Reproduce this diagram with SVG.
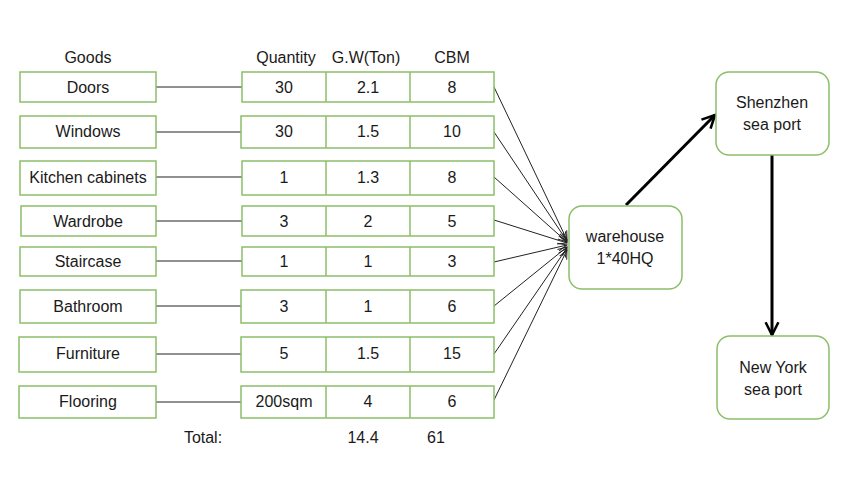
<svg xmlns="http://www.w3.org/2000/svg" width="850" height="500" viewBox="0 0 850 500">
<defs>
<style>
.box{fill:#fff;stroke:#8cbf6a;stroke-width:1.5}
.t{font-family:"Liberation Sans",Arial,sans-serif;font-size:16px;fill:#1a1a1a;text-anchor:middle}
.thin{stroke:#222;stroke-width:1;fill:none}
.thick{stroke:#000;stroke-width:3;fill:none}
</style>
<marker id="sm" viewBox="0 0 10 10" refX="9" refY="5" markerWidth="10" markerHeight="10" markerUnits="userSpaceOnUse" orient="auto">
<path d="M0,1 L9,5 L0,9" fill="none" stroke="#222" stroke-width="1"/>
</marker>
<marker id="big" viewBox="0 0 10 10" refX="9" refY="5" markerWidth="16" markerHeight="16" markerUnits="userSpaceOnUse" orient="auto">
<path d="M1,1 L9,5 L1,9" fill="none" stroke="#000" stroke-width="1.6"/>
</marker>
</defs>
<rect width="850" height="500" fill="#fff"/>
<g id="headers">
<text class="t" x="88" y="63">Goods</text>
<text class="t" x="286" y="63">Quantity</text>
<text class="t" x="366" y="63">G.W(Ton)</text>
<text class="t" x="452" y="63">CBM</text>
</g>
<g id="connectors">
<line class="thin" x1="156" y1="87" x2="242" y2="87"/>
<line class="thin" x1="156" y1="132" x2="242" y2="132"/>
<line class="thin" x1="156" y1="177" x2="242" y2="177"/>
<line class="thin" x1="156" y1="221" x2="242" y2="221"/>
<line class="thin" x1="156" y1="261" x2="242" y2="261"/>
<line class="thin" x1="156" y1="306" x2="242" y2="306"/>
<line class="thin" x1="156" y1="354" x2="242" y2="354"/>
<line class="thin" x1="156" y1="402" x2="242" y2="402"/>
<line class="thin" x1="494" y1="87" x2="567" y2="240" marker-end="url(#sm)"/>
<line class="thin" x1="494" y1="132" x2="567" y2="241" marker-end="url(#sm)"/>
<line class="thin" x1="494" y1="177" x2="567" y2="242" marker-end="url(#sm)"/>
<line class="thin" x1="494" y1="220" x2="567" y2="243" marker-end="url(#sm)"/>
<line class="thin" x1="494" y1="262" x2="567" y2="245" marker-end="url(#sm)"/>
<line class="thin" x1="494" y1="306" x2="567" y2="247" marker-end="url(#sm)"/>
<line class="thin" x1="494" y1="354" x2="567" y2="248" marker-end="url(#sm)"/>
<line class="thin" x1="494" y1="400" x2="567" y2="250" marker-end="url(#sm)"/>
<line class="thick" x1="626" y1="205" x2="715" y2="115" marker-end="url(#big)"/>
<line class="thick" x1="772" y1="155" x2="772" y2="335" marker-end="url(#big)"/>
</g>
<g id="doors">
<rect class="box" x="20" y="72" width="136" height="30"/><text class="t" x="88" y="93">Doors</text>
<rect class="box" x="242" y="72" width="252" height="30"/>
<line class="box" x1="326" y1="72" x2="326" y2="102"/><line class="box" x1="410" y1="72" x2="410" y2="102"/>
<text class="t" x="284" y="93">30</text><text class="t" x="368" y="93">2.1</text><text class="t" x="452" y="93">8</text>
</g>
<g id="windows">
<rect class="box" x="20" y="116" width="136" height="32"/><text class="t" x="88" y="137">Windows</text>
<rect class="box" x="241" y="116" width="253" height="32"/>
<line class="box" x1="326" y1="116" x2="326" y2="148"/><line class="box" x1="410" y1="116" x2="410" y2="148"/>
<text class="t" x="284" y="137">30</text><text class="t" x="368" y="137">1.5</text><text class="t" x="452" y="137">10</text>
</g>
<g id="kitchen">
<rect class="box" x="20" y="161" width="136" height="34"/><text class="t" x="88" y="183">Kitchen cabinets</text>
<rect class="box" x="242" y="161" width="252" height="34"/>
<line class="box" x1="326" y1="161" x2="326" y2="195"/><line class="box" x1="410" y1="161" x2="410" y2="195"/>
<text class="t" x="284" y="183">1</text><text class="t" x="368" y="183">1.3</text><text class="t" x="452" y="183">8</text>
</g>
<g id="wardrobe">
<rect class="box" x="21" y="206" width="135" height="30"/><text class="t" x="88" y="227">Wardrobe</text>
<rect class="box" x="242" y="206" width="252" height="30"/>
<line class="box" x1="326" y1="206" x2="326" y2="236"/><line class="box" x1="410" y1="206" x2="410" y2="236"/>
<text class="t" x="284" y="227">3</text><text class="t" x="368" y="227">2</text><text class="t" x="452" y="227">5</text>
</g>
<g id="staircase">
<rect class="box" x="20" y="247" width="136" height="29"/><text class="t" x="88" y="267">Staircase</text>
<rect class="box" x="242" y="247" width="252" height="29"/>
<line class="box" x1="326" y1="247" x2="326" y2="276"/><line class="box" x1="410" y1="247" x2="410" y2="276"/>
<text class="t" x="284" y="267">1</text><text class="t" x="368" y="267">1</text><text class="t" x="452" y="267">3</text>
</g>
<g id="bathroom">
<rect class="box" x="20" y="290" width="136" height="33"/><text class="t" x="88" y="312">Bathroom</text>
<rect class="box" x="241" y="290" width="253" height="33"/>
<line class="box" x1="326" y1="290" x2="326" y2="323"/><line class="box" x1="410" y1="290" x2="410" y2="323"/>
<text class="t" x="284" y="312">3</text><text class="t" x="368" y="312">1</text><text class="t" x="452" y="312">6</text>
</g>
<g id="furniture">
<rect class="box" x="19" y="337" width="137" height="35"/><text class="t" x="88" y="359">Furniture</text>
<rect class="box" x="241" y="337" width="253" height="35"/>
<line class="box" x1="326" y1="337" x2="326" y2="372"/><line class="box" x1="410" y1="337" x2="410" y2="372"/>
<text class="t" x="284" y="359">5</text><text class="t" x="368" y="359">1.5</text><text class="t" x="452" y="359">15</text>
</g>
<g id="flooring">
<rect class="box" x="19" y="386" width="137" height="32"/><text class="t" x="88" y="407">Flooring</text>
<rect class="box" x="241" y="386" width="253" height="32"/>
<line class="box" x1="326" y1="386" x2="326" y2="418"/><line class="box" x1="410" y1="386" x2="410" y2="418"/>
<text class="t" x="284" y="407">200sqm</text><text class="t" x="368" y="407">4</text><text class="t" x="452" y="407">6</text>
</g>
<g id="totals">
<text class="t" x="203" y="443">Total:</text>
<text class="t" x="363" y="443">14.4</text>
<text class="t" x="436" y="443">61</text>
</g>
<g id="warehouse">
<rect class="box" x="569" y="206" width="113" height="83" rx="13"/>
<text class="t" x="625" y="242">warehouse</text>
<text class="t" x="625" y="264">1*40HQ</text>
</g>
<g id="shenzhen">
<rect class="box" x="716" y="72" width="113" height="83" rx="13"/>
<text class="t" x="772" y="108">Shenzhen</text>
<text class="t" x="772" y="130">sea port</text>
</g>
<g id="newyork">
<rect class="box" x="717" y="336" width="112" height="83" rx="13"/>
<text class="t" x="773" y="373">New York</text>
<text class="t" x="773" y="395">sea port</text>
</g>
</svg>
